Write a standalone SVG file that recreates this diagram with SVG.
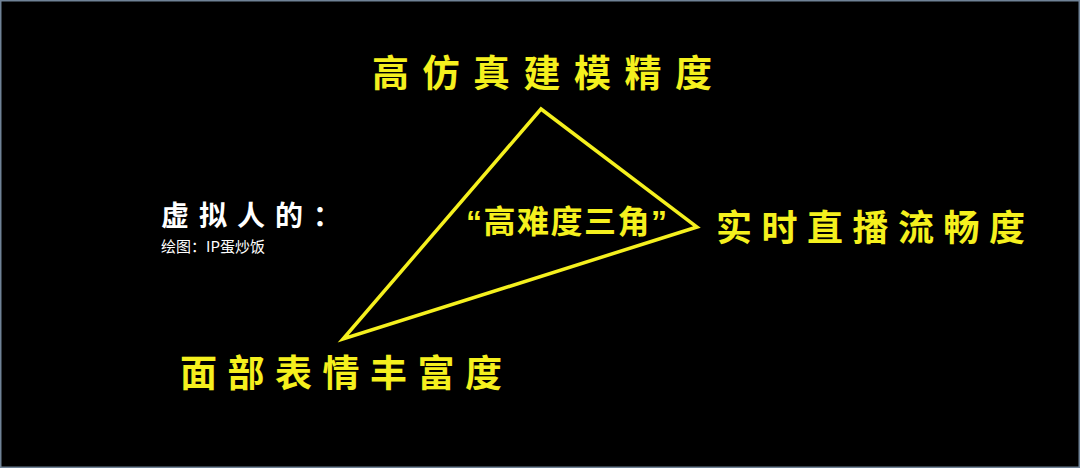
<svg xmlns="http://www.w3.org/2000/svg" width="1080" height="468" viewBox="0 0 1080 468">
<style>
.lbl{font-family:"Noto Sans CJK SC","Liberation Sans",sans-serif;font-weight:700;fill:#f5f01e;}
.wht{font-family:"Noto Sans CJK SC","Liberation Sans",sans-serif;fill:#ffffff;}
.tri{fill:none;stroke:#f5f01e;stroke-width:3.5;stroke-linejoin:miter;}
</style>
<rect x="0" y="0" width="1080" height="468" fill="#000000"/>
<rect x="0.75" y="0.75" width="1078.5" height="466.5" fill="none" stroke="#6f8296" stroke-width="1.5"/>
<g id="connectors">
<polygon class="tri" points="541,109 697,227 343,339"/>
</g>
<g id="node-top">
<text class="lbl" x="372" y="87" font-size="37" letter-spacing="13.5">高仿真建模精度</text>
</g>
<g id="node-right">
<text class="lbl" x="716" y="241" font-size="36" letter-spacing="9.5">实时直播流畅度</text>
</g>
<g id="node-bottom">
<text class="lbl" x="180" y="387" font-size="37" letter-spacing="10.5">面部表情丰富度</text>
</g>
<g id="node-center">
<text class="lbl" x="466" y="233" font-size="32" letter-spacing="1.5" style="font-family:'Liberation Sans','Noto Sans CJK SC',sans-serif">“高难度三角”</text>
</g>
<g id="node-title">
<text class="wht" x="161" y="226" font-size="28" font-weight="700" letter-spacing="10">虚拟人的：</text>
<text class="wht" x="161" y="252" font-size="15" fill="#e6e6e6">绘图：IP蛋炒饭</text>
</g>
</svg>
